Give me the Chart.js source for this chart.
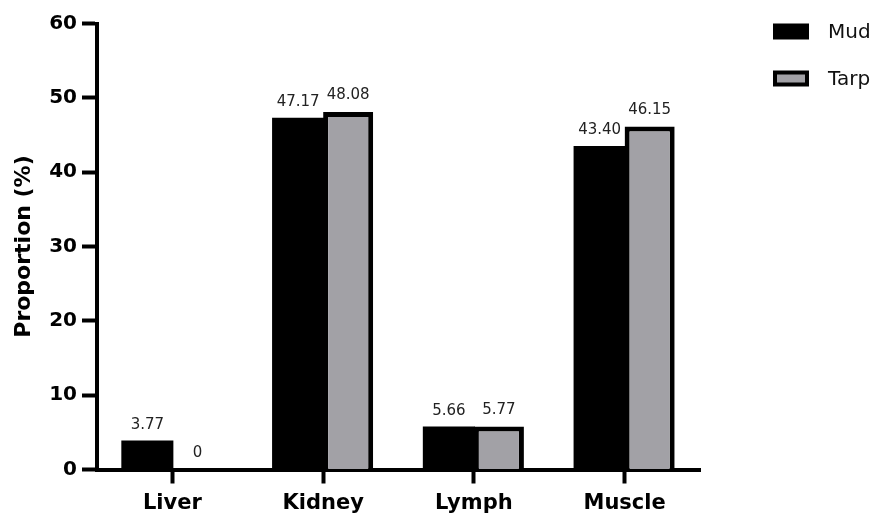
<!DOCTYPE html>
<html>
<head>
<meta charset="utf-8">
<script src="https://cdn.jsdelivr.net/npm/chart.js@4.4.1/dist/chart.umd.min.js"></script>
<style>
  html, body { margin: 0; padding: 0; background: #fff; }
  #wrap { width: 883px; height: 517px; position: relative; }
</style>
</head>
<body>
<div id="wrap"><canvas id="myChart"></canvas></div>
<script>
const categories = ['Liver', 'Kidney', 'Lymph', 'Muscle'];
const mudValues = [3.77, 47.17, 5.66, 43.40];
const tarpValues = [0, 48.08, 5.77, 46.15];
const yTicks = [0, 10, 20, 30, 40, 50, 60];

const FONT = "'DejaVu Sans', sans-serif";

function fmt(v) {
    return v === 0 ? '0' : v.toFixed(2);
}

// value labels above each bar
const valueLabels = {
    id: 'valueLabels',
    afterDatasetsDraw(chart) {
        const ctx = chart.ctx;
        ctx.save();
        ctx.font = '15px ' + FONT;
        ctx.fillStyle = '#222';
        ctx.textAlign = 'center';
        ctx.textBaseline = 'bottom';
        chart.data.datasets.forEach((ds, i) => {
            chart.getDatasetMeta(i).data.forEach((bar, j) => {
                ctx.fillText(fmt(ds.data[j]), bar.x, bar.y - 9);
            });
        });
        ctx.restore();
    }
};

// legend at the right side
const sideLegend = {
    id: 'sideLegend',
    afterDraw(chart) {
        const ctx = chart.ctx;
        ctx.save();
        ctx.font = '20px ' + FONT;
        ctx.textBaseline = 'middle';
        chart.data.datasets.forEach((ds, i) => {
            const cy = 31.5 + i * 47;
            ctx.fillStyle = ds.borderColor;
            ctx.fillRect(773, cy - 8, 36, 16);
            if (ds.borderWidth > 0) {
                ctx.fillStyle = ds.backgroundColor;
                ctx.fillRect(777, cy - 4, 28, 8);
            }
            ctx.fillStyle = '#111';
            ctx.fillText(ds.label, 828, cy + 1);
        });
        ctx.restore();
    }
};

const data = {
    labels: categories,
    datasets: [{
        label: 'Mud',
        data: mudValues,
        backgroundColor: '#000000',
        borderColor: '#000000',
        borderWidth: 0,
        inflateAmount: 1,
        categoryPercentage: 0.664,
        barPercentage: 1.0
    }, {
        label: 'Tarp',
        data: tarpValues,
        backgroundColor: '#a2a1a6',
        borderColor: '#000000',
        borderWidth: 5,
        categoryPercentage: 0.664,
        barPercentage: 1.0
    }]
};

const config = {
    type: 'bar',
    data: data,
    plugins: [valueLabels, sideLegend],
    options: {
        responsive: true,
        maintainAspectRatio: false,
        animation: false,
        layout: { padding: { top: 23.5, right: 183, left: 0, bottom: 0 } },
        plugins: {
            legend: { display: false },
            tooltip: { enabled: false }
        },
        scales: {
            x: {
                afterFit(scale) { scale.height = 47.5; },
                border: { display: true, width: 4, color: '#000' },
                grid: {
                    display: true,
                    offset: false,
                    drawOnChartArea: false,
                    drawTicks: true,
                    tickLength: 14,
                    tickWidth: 4,
                    tickColor: '#000'
                },
                ticks: {
                    color: '#000',
                    padding: 7,
                    font: { family: FONT, size: 21, weight: 'bold' }
                }
            },
            y: {
                min: 0,
                max: 60,
                afterFit(scale) { scale.width = 97; },
                afterBuildTicks(scale) { scale.ticks = yTicks.map(v => ({ value: v })); },
                border: { display: true, width: 4, color: '#000' },
                grid: {
                    display: true,
                    drawOnChartArea: false,
                    drawTicks: true,
                    tickLength: 15,
                    tickWidth: 4,
                    tickColor: '#000'
                },
                ticks: {
                    color: '#000',
                    padding: 5,
                    font: { family: FONT, size: 20, weight: 'bold' }
                },
                title: {
                    display: true,
                    text: 'Proportion (%)',
                    color: '#000',
                    padding: { top: 11, bottom: 0 },
                    font: { family: FONT, size: 22, weight: 'bold' }
                }
            }
        }
    }
};

const myChart = new Chart(document.getElementById('myChart'), config);
</script>
</body>
</html>
